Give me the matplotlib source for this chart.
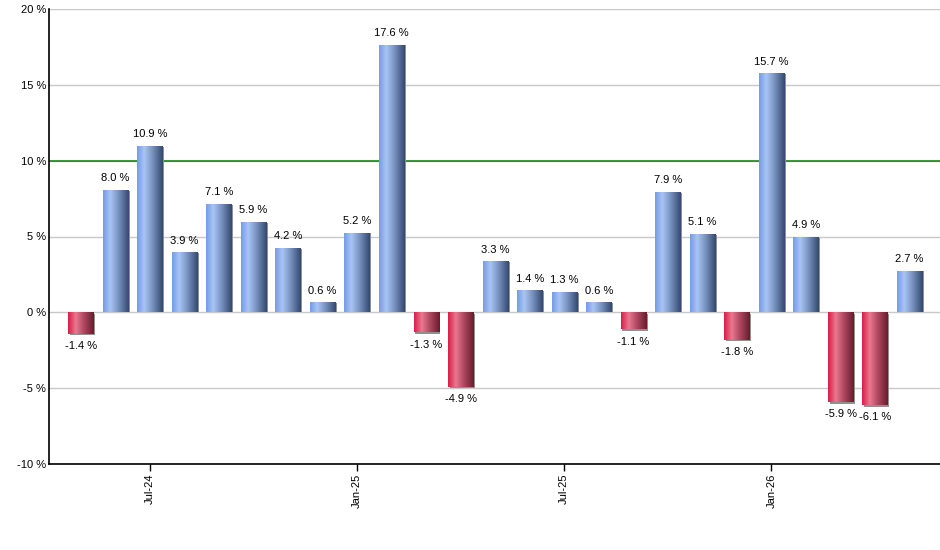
import matplotlib
matplotlib.use('Agg')
import matplotlib.pyplot as plt
import numpy as np
from matplotlib.colors import LinearSegmentedColormap
from matplotlib.patches import Rectangle

months = ['May-24', 'Jun-24', 'Jul-24', 'Aug-24', 'Sep-24', 'Oct-24', 'Nov-24',
          'Dec-24', 'Jan-25', 'Feb-25', 'Mar-25', 'Apr-25', 'May-25', 'Jun-25',
          'Jul-25', 'Aug-25', 'Sep-25', 'Oct-25', 'Nov-25', 'Dec-25', 'Jan-26',
          'Feb-26', 'Mar-26', 'Apr-26', 'May-26']
returns = [-1.4, 8.0, 10.9, 3.9, 7.1, 5.9, 4.2, 0.6, 5.2, 17.6, -1.3, -4.9,
           3.3, 1.4, 1.3, 0.6, -1.1, 7.9, 5.1, -1.8, 15.7, 4.9, -5.9, -6.1, 2.7]
tick_labels = ['Jul-24', 'Jan-25', 'Jul-25', 'Jan-26']
target = 10

blue_cmap = LinearSegmentedColormap.from_list(
    'blue', [(0, '#729ce6'), (0.28, '#a9c5f4'), (0.6, '#7892c0'), (1, '#33486e')])
red_cmap = LinearSegmentedColormap.from_list(
    'red', [(0, '#d81c45'), (0.3, '#ea7890'), (0.6, '#b04a62'), (1, '#6a1a2c')])

fig = plt.figure(figsize=(9.4, 5.5), dpi=100)
ax = fig.add_axes([49 / 940, 86 / 550, 891 / 940, 455 / 550])

x = np.arange(len(returns))
width = 0.73

# gridlines
ax.set_yticks(np.arange(-10, 21, 5))
ax.yaxis.grid(True, color='#c8c8c8', linewidth=1, zorder=0)
ax.set_axisbelow(True)

# target line sits behind the bars
ax.axhline(target, color='#008000', linewidth=1.1, zorder=1)

# shadows
dx = 0.05
dy = 0.12
for xi, v in zip(x, returns):
    if v >= 0:
        ax.add_patch(Rectangle((xi - width / 2 + dx, 0), width, v,
                               color='#909090', zorder=2, linewidth=0))
    else:
        ax.add_patch(Rectangle((xi - width / 2 + dx, -dy), width, v,
                               color='#909090', zorder=2, linewidth=0))

bars = ax.bar(x, returns, width=width, color='none', zorder=3)
grad = np.linspace(0, 1, 256).reshape(1, -1)
for bar, v in zip(bars, returns):
    x0, y0 = bar.get_x(), bar.get_y()
    w, h = bar.get_width(), bar.get_height()
    cmap = blue_cmap if v >= 0 else red_cmap
    ax.imshow(grad, cmap=cmap, aspect='auto', zorder=3,
              extent=(x0, x0 + w, min(y0, y0 + h), max(y0, y0 + h)),
              interpolation='bilinear')

for xi, v in zip(x, returns):
    if v >= 0:
        ax.text(xi, v + 0.5, f'{v:.1f} %', ha='center', va='bottom',
                fontsize=8, family='Liberation Sans')
    else:
        ax.text(xi, v - 0.5, f'{v:.1f} %', ha='center', va='top',
                fontsize=8, family='Liberation Sans')

ax.set_xlim(-0.92, 24.88)
ax.set_ylim(-10, 20)
ax.set_yticklabels([f'{t} %' for t in range(-10, 21, 5)],
                   fontsize=8, family='Liberation Sans')
ax.tick_params(axis='y', length=0, pad=2)

ax.set_xticks([months.index(m) for m in tick_labels])
ax.set_xticklabels(tick_labels, rotation=90, fontsize=8, family='Liberation Sans')
ax.tick_params(axis='x', length=5, width=1, pad=2)

ax.spines['top'].set_visible(False)
ax.spines['right'].set_visible(False)
ax.spines['left'].set_linewidth(1.2)
ax.spines['bottom'].set_linewidth(1.2)

fig.savefig('out.png', dpi=100)
